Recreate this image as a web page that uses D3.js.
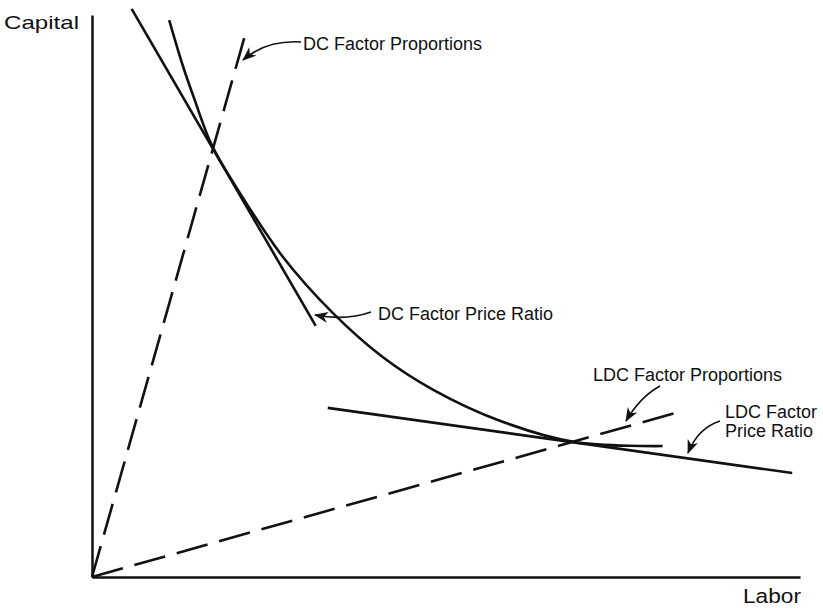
<!DOCTYPE html>
<html>
<head>
<meta charset="utf-8">
<script src="https://cdn.jsdelivr.net/npm/d3@7"></script>
<style>
  html, body { margin: 0; padding: 0; background: #fff; }
  svg { display: block; }
  text { font-family: "Liberation Sans", Arial, Helvetica, sans-serif; fill: #111; }
</style>
</head>
<body>
<svg id="chart" width="823" height="608"></svg>
<script>
// ---- Data (abstract units: Labor 0-100, Capital 0-100) ----
const axisLabels = ["Labor", "Capital"];
const isoquantLabor   = [10.9, 12.9, 14.5, 16.9, 20.9, 27.0, 34.0, 41.1, 48.2, 57.6, 68.2, 80.6];
const isoquantCapital = [99.1, 90.7, 84.9, 76.9, 68.3, 56.9, 47.0, 39.1, 33.3, 27.8, 24.0, 23.3];
const dcProportionsLabor    = [0, 21.9];
const dcProportionsCapital  = [0, 97.7];
const ldcProportionsLabor   = [0, 83.3];
const ldcProportionsCapital = [0, 29.5];
const dcPriceLabor    = [5.6, 31.6];
const dcPriceCapital  = [101.1, 44.7];
const ldcPriceLabor   = [33.3, 98.9];
const ldcPriceCapital = [30.1, 18.5];
const annotationTexts = ["DC Factor Proportions", "DC Factor Price Ratio", "LDC Factor Proportions", ["LDC Factor", "Price Ratio"]];

// ---- Layout ----
const svg = d3.select("#chart");
const x = d3.scaleLinear().domain([0, 100]).range([92, 800]);
const y = d3.scaleLinear().domain([0, 100]).range([577, 15]);

const ink = "#111";

// arrowhead marker
const defs = svg.append("defs");
defs.append("marker")
  .attr("id", "arrow")
  .attr("markerUnits", "userSpaceOnUse")
  .attr("viewBox", "-14 -7 16 14")
  .attr("refX", 0).attr("refY", 0)
  .attr("markerWidth", 16).attr("markerHeight", 14)
  .attr("orient", "auto")
  .append("path")
  .attr("d", "M1,0 L-13,-5.5 L-9,0 L-13,5.5 Z")
  .attr("fill", ink);

// Axes (no ticks)
svg.append("g")
  .attr("transform", `translate(0,${y(0)})`)
  .call(d3.axisBottom(x).ticks(0).tickSize(0).tickSizeOuter(0))
  .call(g => g.select(".domain").attr("stroke", ink).attr("stroke-width", 2.5));
svg.append("g")
  .attr("transform", `translate(${x(0)},0)`)
  .call(d3.axisLeft(y).ticks(0).tickSize(0).tickSizeOuter(0))
  .call(g => g.select(".domain").attr("stroke", ink).attr("stroke-width", 2.5));

// axis labels
svg.append("text").attr("x", 4).attr("y", 29)
  .attr("font-size", 19).attr("textLength", 75).attr("lengthAdjust", "spacingAndGlyphs")
  .text(axisLabels[1]);
svg.append("text").attr("x", 743).attr("y", 603)
  .attr("font-size", 20).attr("textLength", 58).attr("lengthAdjust", "spacingAndGlyphs")
  .text(axisLabels[0]);

const line = d3.line().x(d => x(d[0])).y(d => y(d[1]));
const zip = (a, b) => a.map((v, i) => [v, b[i]]);

// dashed factor proportion rays
[[dcProportionsLabor, dcProportionsCapital], [ldcProportionsLabor, ldcProportionsCapital]].forEach(([lx, ly]) => {
  svg.append("path")
    .attr("d", line(zip(lx, ly)))
    .attr("fill", "none").attr("stroke", ink)
    .attr("stroke-width", 2.6).attr("stroke-dasharray", "32,12");
});

// price ratio lines
[[dcPriceLabor, dcPriceCapital], [ldcPriceLabor, ldcPriceCapital]].forEach(([lx, ly]) => {
  svg.append("path")
    .attr("d", line(zip(lx, ly)))
    .attr("fill", "none").attr("stroke", ink).attr("stroke-width", 2.6);
});

// isoquant
svg.append("path")
  .attr("d", d3.line().x(d => x(d[0])).y(d => y(d[1])).curve(d3.curveCatmullRom.alpha(0.5))(zip(isoquantLabor, isoquantCapital)))
  .attr("fill", "none").attr("stroke", ink).attr("stroke-width", 2.6);

// annotations (text + curved arrows), positioned in pixels
const annotations = [
  { lines: [annotationTexts[0]], tx: 303, ty: 50, arrow: [[301, 42], [266, 40], [243, 60]] },
  { lines: [annotationTexts[1]], tx: 378, ty: 320, arrow: [[371, 312], [346, 321], [315, 315]] },
  { lines: [annotationTexts[2]], tx: 593, ty: 381, arrow: [[660, 386], [640, 397], [626, 421]] },
  { lines: annotationTexts[3], tx: 725, ty: 418, arrow: [[720, 421], [698, 428], [688, 453]] }
];
annotations.forEach(a => {
  const t = svg.append("text").attr("x", a.tx).attr("y", a.ty).attr("font-size", 18);
  a.lines.forEach((s, i) => t.append("tspan").attr("x", a.tx).attr("dy", i === 0 ? 0 : 19).text(s));
  const [p0, c, p1] = a.arrow;
  const p = d3.path();
  p.moveTo(p0[0], p0[1]);
  p.quadraticCurveTo(c[0], c[1], p1[0], p1[1]);
  svg.append("path").attr("d", p.toString())
    .attr("fill", "none").attr("stroke", ink).attr("stroke-width", 1.6)
    .attr("marker-end", "url(#arrow)");
});
</script>
</body>
</html>
